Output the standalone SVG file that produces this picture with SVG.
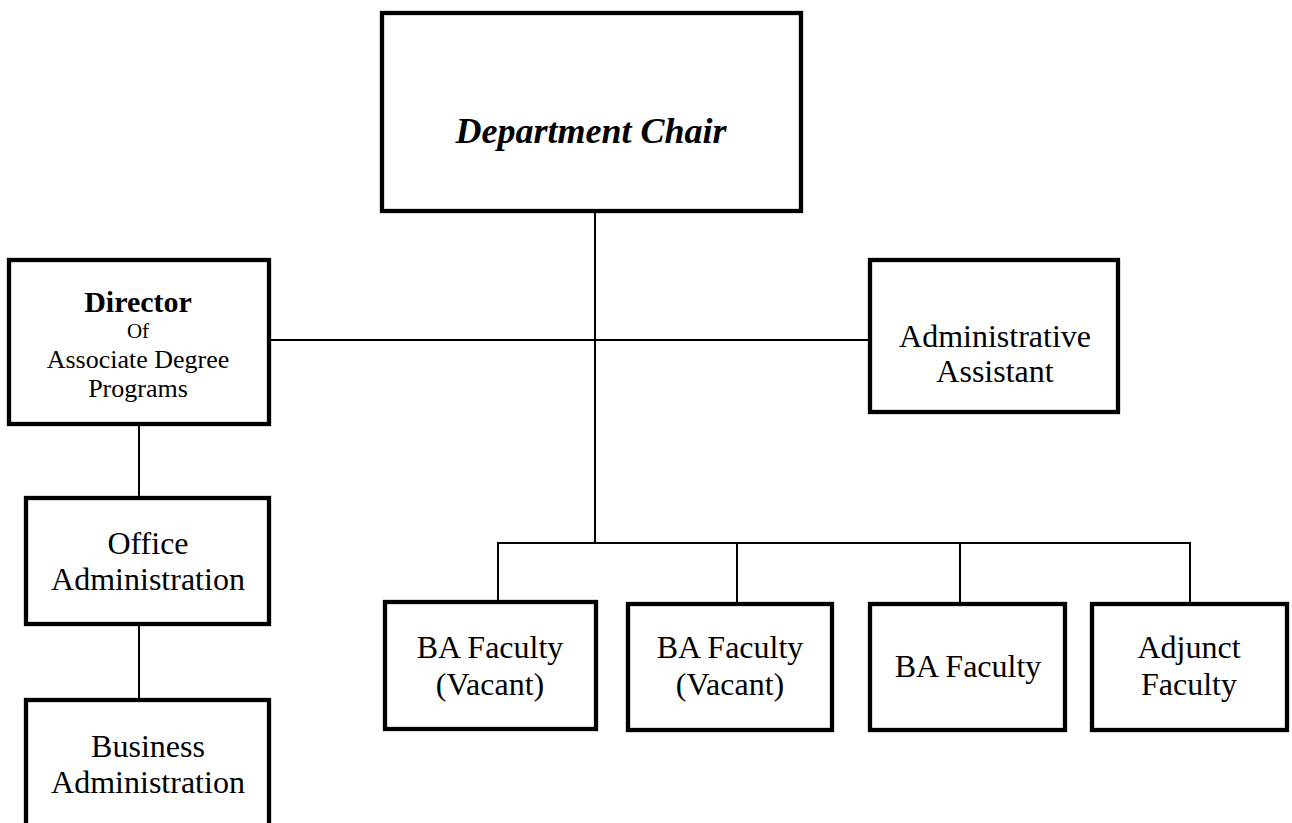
<svg xmlns="http://www.w3.org/2000/svg" width="1292" height="823" viewBox="0 0 1292 823">
<style>
.box{fill:#fff;stroke:#000;stroke-width:4.3}
.ln{fill:none;stroke:#000;stroke-width:2}
text{font-family:'Liberation Serif','DejaVu Serif',serif;fill:#000;text-anchor:middle}
.t{font-size:32px}
</style>
<rect width="1292" height="823" fill="#fff"/>
<g id="connectors">
<line class="ln" x1="595" y1="211" x2="595" y2="543"/>
<line class="ln" x1="269" y1="340" x2="870" y2="340"/>
<polyline class="ln" points="498,602 498,543 1190,543 1190,604"/>
<line class="ln" x1="737" y1="543" x2="737" y2="604"/>
<line class="ln" x1="960" y1="543" x2="960" y2="604"/>
<line class="ln" x1="139" y1="424" x2="139" y2="498"/>
<line class="ln" x1="139" y1="624" x2="139" y2="700"/>
</g>
<g id="chair">
<rect class="box" x="382" y="13" width="419" height="198"/>
<text x="591" y="143" font-family="Liberation Serif, serif" style="font-size:36px;font-weight:bold;font-style:italic">Department Chair</text>
</g>
<g id="director">
<rect class="box" x="9" y="260" width="260" height="164"/>
<text x="138" y="312" style="font-size:30px;font-weight:bold">Director</text>
<text x="138" y="338" style="font-size:21px">Of</text>
<text x="138" y="368" style="font-size:26px">Associate Degree</text>
<text x="138" y="397" style="font-size:26px">Programs</text>
</g>
<g id="admin-assistant">
<rect class="box" x="870" y="260" width="248" height="152"/>
<text class="t" x="995" y="347">Administrative</text>
<text class="t" x="995" y="382">Assistant</text>
</g>
<g id="office-admin">
<rect class="box" x="26" y="498" width="243" height="126"/>
<text class="t" x="148" y="554">Office</text>
<text class="t" x="148" y="590">Administration</text>
</g>
<g id="business-admin">
<rect class="box" x="26" y="700" width="243" height="140"/>
<text class="t" x="148" y="757">Business</text>
<text class="t" x="148" y="793">Administration</text>
</g>
<g id="ba-faculty-1">
<rect class="box" x="385" y="602" width="211" height="127"/>
<text class="t" x="490" y="658">BA Faculty</text>
<text class="t" x="490" y="695">(Vacant)</text>
</g>
<g id="ba-faculty-2">
<rect class="box" x="628" y="604" width="204" height="126"/>
<text class="t" x="730" y="658">BA Faculty</text>
<text class="t" x="730" y="695">(Vacant)</text>
</g>
<g id="ba-faculty-3">
<rect class="box" x="870" y="604" width="195" height="126"/>
<text class="t" x="968" y="677">BA Faculty</text>
</g>
<g id="adjunct-faculty">
<rect class="box" x="1092" y="604" width="195" height="126"/>
<text class="t" x="1189" y="658">Adjunct</text>
<text class="t" x="1189" y="695">Faculty</text>
</g>
</svg>
